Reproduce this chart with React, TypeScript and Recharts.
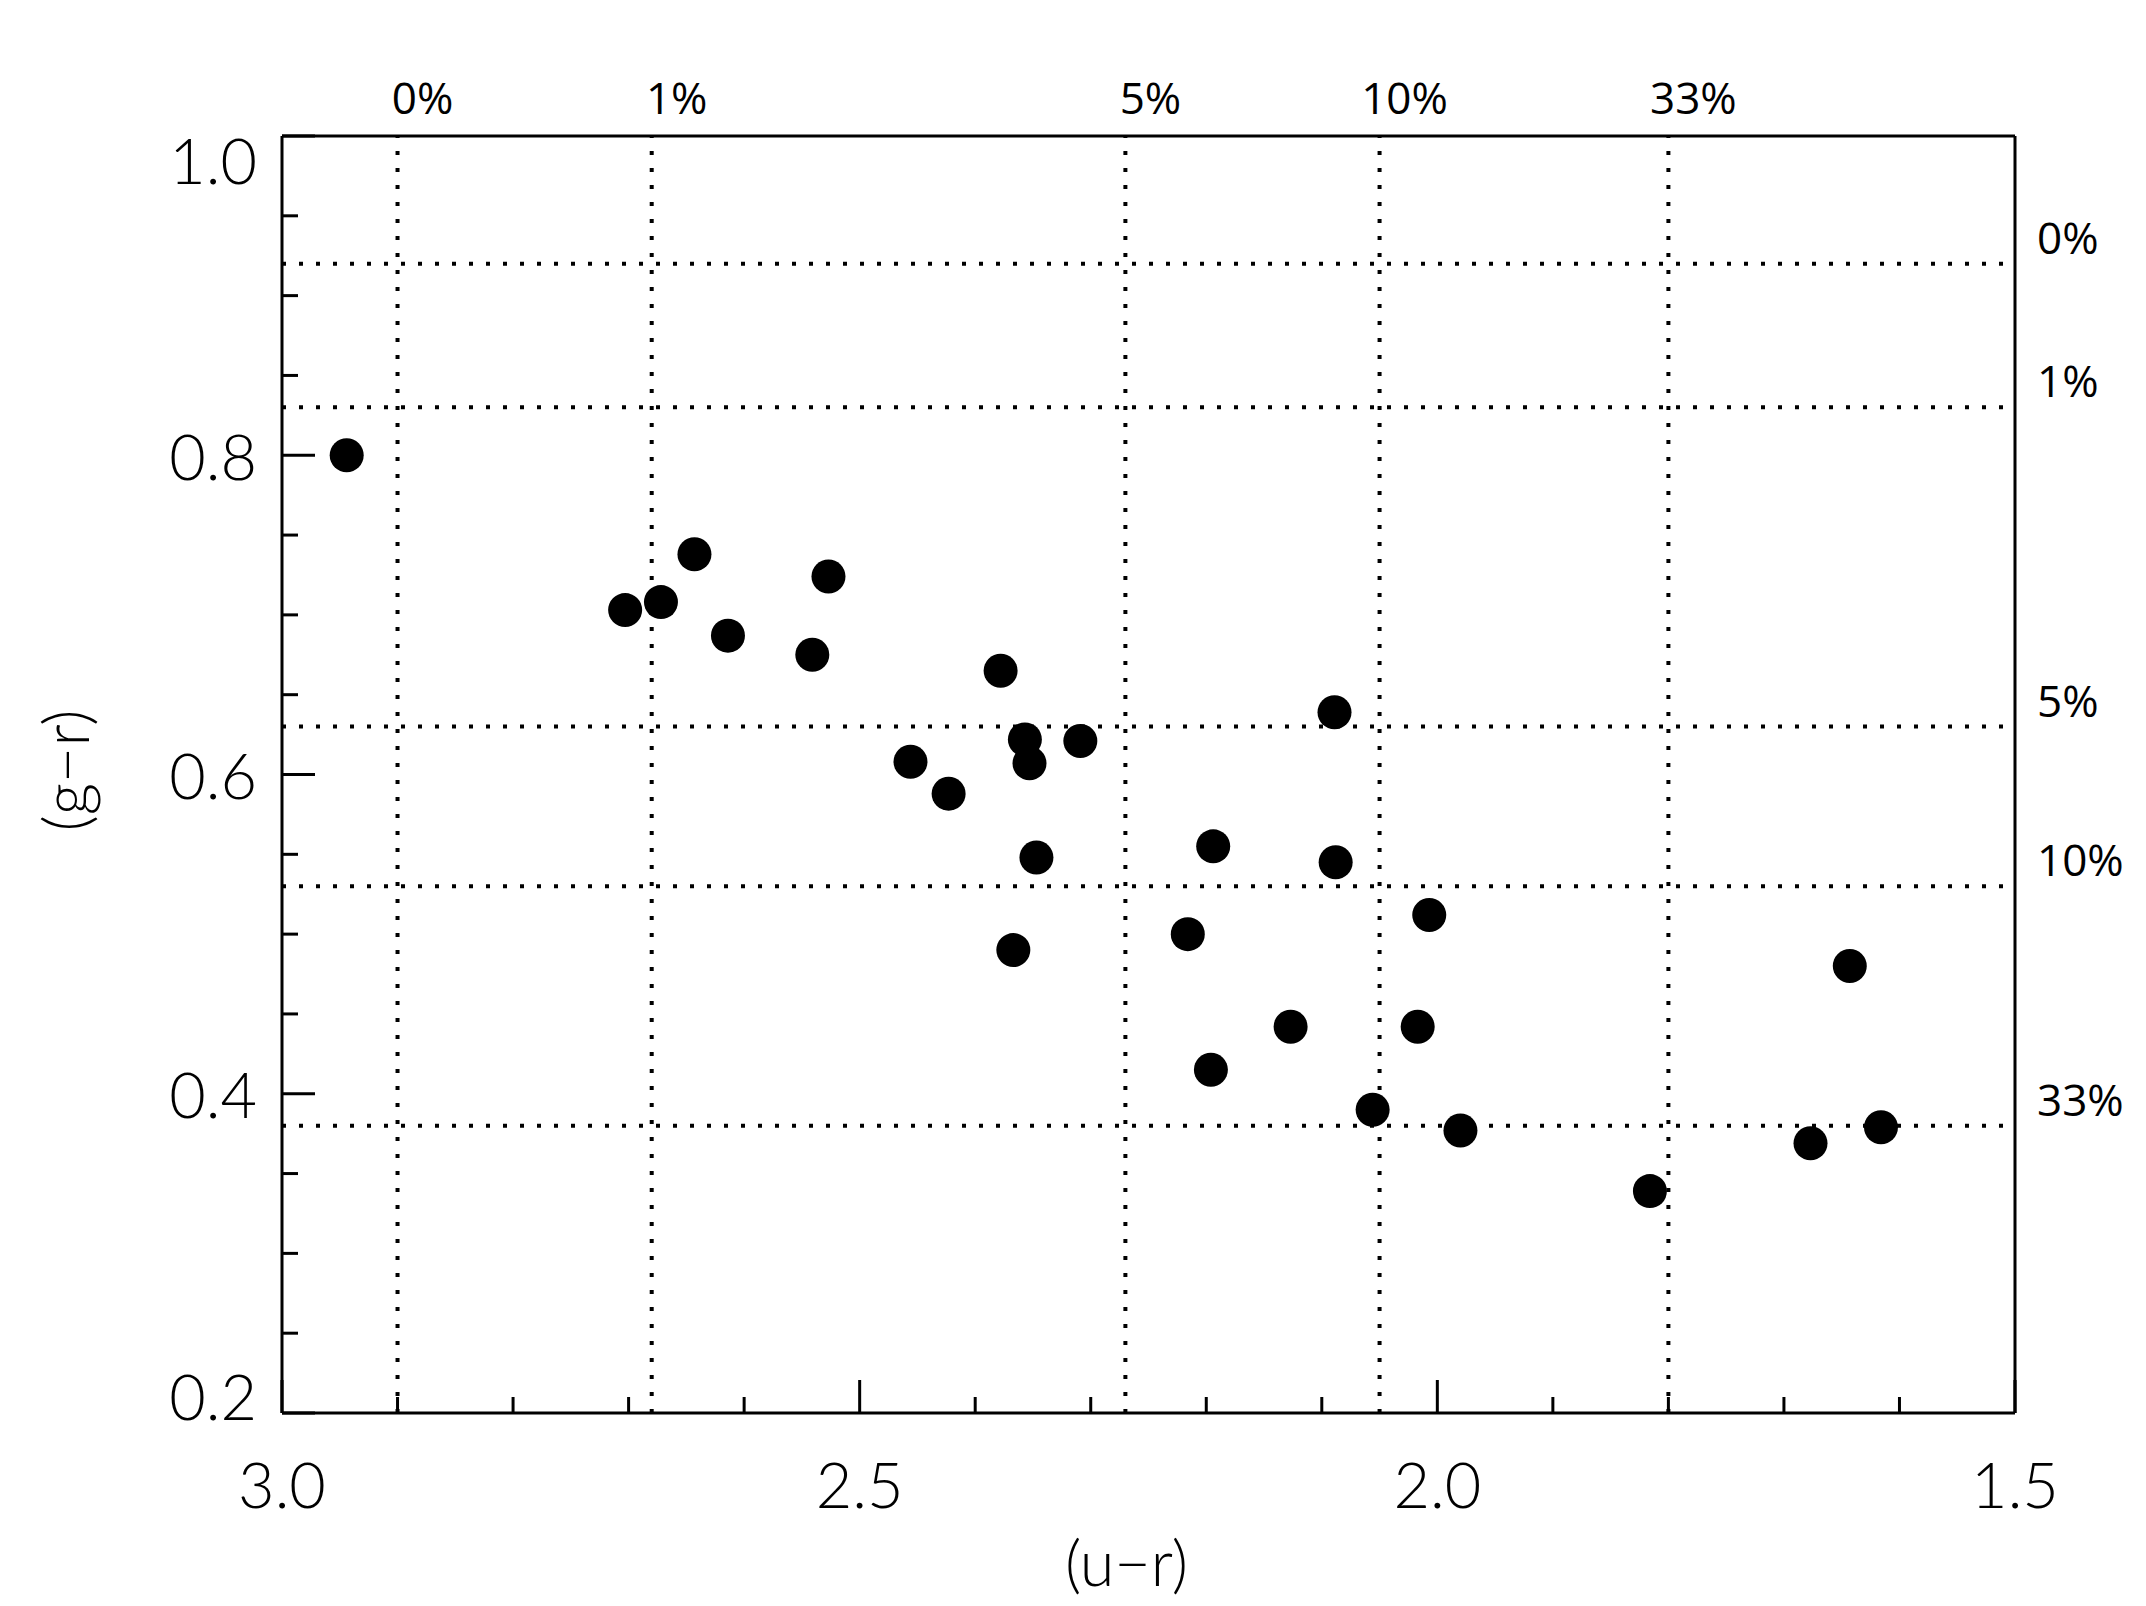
import React from "react";
import {
  ScatterChart,
  Scatter,
  XAxis,
  YAxis,
  ReferenceLine,
} from "recharts";

// (u-r) vs (g-r) colour-colour diagram
const uMinusR = [
  2.944, 2.703, 2.672, 2.643, 2.614, 2.527, 2.541, 2.378, 2.456, 2.423,
  2.357, 2.353, 2.309, 2.347, 2.367, 2.089, 2.194, 2.088, 2.216, 2.196,
  2.127, 2.007, 2.017, 2.056, 1.98, 1.816, 1.643, 1.677, 1.616,
];
const gMinusR = [
  0.8, 0.703, 0.708, 0.738, 0.687, 0.724, 0.675, 0.665, 0.608, 0.588,
  0.622, 0.607, 0.621, 0.548, 0.49, 0.639, 0.555, 0.545, 0.5, 0.415,
  0.442, 0.512, 0.442, 0.39, 0.377, 0.339, 0.48, 0.369, 0.379,
];

// contamination thresholds
const xCutValues = [2.9, 2.68, 2.27, 2.05, 1.8];
const xCutLabels = ["0%", "1%", "5%", "10%", "33%"];
const yCutValues = [0.92, 0.83, 0.63, 0.53, 0.38];
const yCutLabels = ["0%", "1%", "5%", "10%", "33%"];

const xDomain = [1.5, 3.0];
const yDomain = [0.2, 1.0];
const xMajorTicks = [1.5, 2.0, 2.5, 3.0];
const xAllTicks = [1.5, 1.6, 1.7, 1.8, 1.9, 2.0, 2.1, 2.2, 2.3, 2.4, 2.5, 2.6, 2.7, 2.8, 2.9, 3.0];
const yMajorTicks = [0.2, 0.4, 0.6, 0.8, 1.0];
const yAllTicks = [0.2, 0.25, 0.3, 0.35, 0.4, 0.45, 0.5, 0.55, 0.6, 0.65, 0.7, 0.75, 0.8, 0.85, 0.9, 0.95, 1.0];

const points = uMinusR.map((u, i) => ({ u, g: gMinusR[i] }));

const axisFont = "Lato, 'DejaVu Sans', sans-serif";
const pctFont = "'Open Sans', Lato, sans-serif";
const MAJOR = 33;
const MINOR = 16;
const axisLine = { stroke: "#000", strokeWidth: 3 };
const dotted = { stroke: "#000", strokeWidth: 4, strokeDasharray: "4 13" };

const fmt = (v: number) => v.toFixed(1);

function BottomTick({ x, y, payload }: any) {
  const major = xMajorTicks.includes(payload.value);
  return (
    <g>
      <line x1={x} x2={x} y1={y} y2={y - (major ? MAJOR : MINOR)} stroke="#000" strokeWidth={3} />
      {major && (
        <text x={x} y={y + 95} textAnchor="middle" fontSize={63} fontFamily={axisFont} fontWeight={300} fill="#000">
          {fmt(payload.value)}
        </text>
      )}
    </g>
  );
}

function TopTick({ x, y, payload }: any) {
  const major = xMajorTicks.includes(payload.value);
  return <line x1={x} x2={x} y1={y} y2={y + (major ? MAJOR : MINOR)} stroke="#000" strokeWidth={3} />;
}

function LeftTick({ x, y, payload }: any) {
  const major = yMajorTicks.includes(payload.value);
  const shift = payload.value === yDomain[1] ? 25 : payload.value === yDomain[0] ? -16 : 2;
  return (
    <g>
      <line x1={x} x2={x + (major ? MAJOR : MINOR)} y1={y} y2={y} stroke="#000" strokeWidth={3} />
      {major && (
        <text x={x - 25} y={y + shift} dy="0.36em" textAnchor="end" fontSize={63} fontFamily={axisFont} fontWeight={300} fill="#000">
          {fmt(payload.value)}
        </text>
      )}
    </g>
  );
}

function RightTick({ x, y, payload }: any) {
  const major = yMajorTicks.includes(payload.value);
  return <line x1={x} x2={x - (major ? MAJOR : MINOR)} y1={y} y2={y} stroke="#000" strokeWidth={3} />;
}

const topLabel = (text: string) => (props: any) => {
  const vb = props.viewBox;
  return (
    <text x={vb.x + 25} y={vb.y - 22} textAnchor="middle" fontSize={44} fontFamily={pctFont} fill="#000">
      {text}
    </text>
  );
};

const rightLabel = (text: string) => (props: any) => {
  const vb = props.viewBox;
  return (
    <text x={vb.x + vb.width + 22} y={vb.y - 10} textAnchor="start" fontSize={44} fontFamily={pctFont} fill="#000">
      {text}
    </text>
  );
};

const yTitle = (props: any) => {
  const vb = props.viewBox;
  const cx = 56;
  const cy = vb.y + vb.height / 2 - 4;
  return (
    <text
      x={cx}
      y={cy}
      transform={`rotate(-90 ${cx} ${cy})`}
      textAnchor="middle"
      dominantBaseline="central"
      fontSize={63}
      fontFamily={axisFont}
      fontWeight={300}
      fill="#000"
    >
      (g−r)
    </text>
  );
};

function Dot(props: any) {
  return <circle cx={props.cx} cy={props.cy} r={17} fill="#000" />;
}

export default function App() {
  return (
    <div style={{ width: 2130, height: 1590, background: "#fff" }}>
      <ScatterChart width={2130} height={1590} margin={{ top: 0, right: 0, bottom: 0, left: 0 }}>
        <XAxis
          xAxisId="bottom"
          dataKey="u"
          type="number"
          domain={xDomain}
          reversed
          ticks={xAllTicks}
          interval={0}
          height={185}
          tickSize={0}
          tickMargin={0}
          axisLine={axisLine}
          tick={<BottomTick />}
          label={{ value: "(u−r)", position: "insideBottom", offset: 12, fontSize: 63, fontFamily: axisFont, fontWeight: 300, fill: "#000", dx: -22 }}
        />
        <XAxis
          xAxisId="top"
          orientation="top"
          type="number"
          domain={xDomain}
          reversed
          ticks={xAllTicks}
          interval={0}
          height={128}
          tickSize={0}
          tickMargin={0}
          axisLine={axisLine}
          tick={<TopTick />}
        />
        <YAxis
          yAxisId="left"
          dataKey="g"
          type="number"
          domain={yDomain}
          ticks={yAllTicks}
          interval={0}
          width={274}
          tickSize={0}
          tickMargin={0}
          axisLine={axisLine}
          tick={<LeftTick />}
          label={{ content: yTitle }}
        />
        <YAxis
          yAxisId="right"
          orientation="right"
          type="number"
          domain={yDomain}
          ticks={yAllTicks}
          interval={0}
          width={123}
          tickSize={0}
          tickMargin={0}
          axisLine={axisLine}
          tick={<RightTick />}
        />
        {xCutValues.map((v, i) => (
          <ReferenceLine key={"vx" + i} x={v} xAxisId="bottom" yAxisId="left" {...dotted} label={topLabel(xCutLabels[i])} />
        ))}
        {yCutValues.map((v, i) => (
          <ReferenceLine key={"hy" + i} y={v} xAxisId="bottom" yAxisId="left" {...dotted} label={rightLabel(yCutLabels[i])} />
        ))}
        <Scatter data={points} xAxisId="bottom" yAxisId="left" fill="#000" shape={<Dot />} isAnimationActive={false} />
      </ScatterChart>
    </div>
  );
}
